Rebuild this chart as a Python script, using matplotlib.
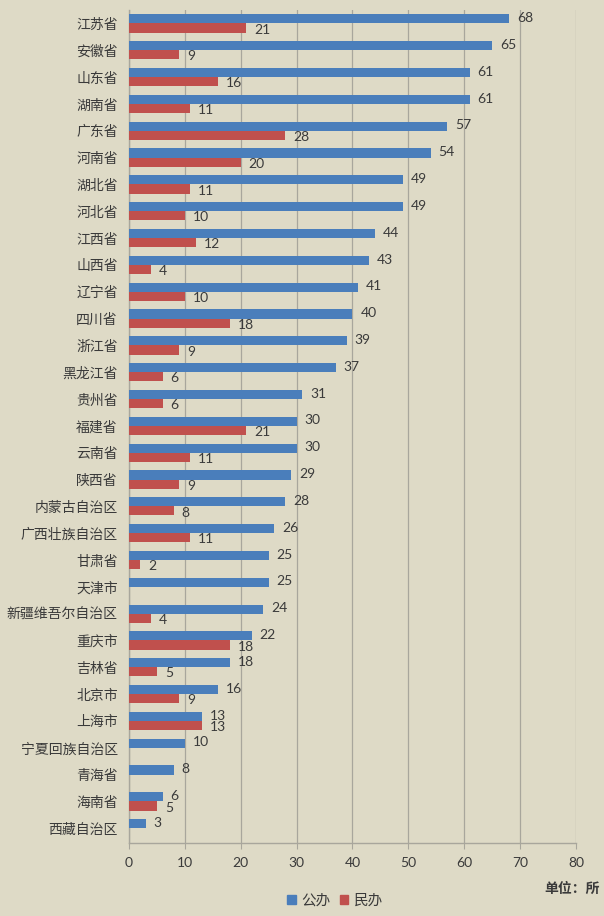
import matplotlib
matplotlib.use("Agg")
import matplotlib.pyplot as plt
import numpy as np
from matplotlib.patches import Patch

plt.rcParams["font.family"] = ["Noto Sans CJK SC", "DejaVu Sans"]

# data
provinces = [
    "江苏省", "安徽省", "山东省", "湖南省", "广东省", "河南省", "湖北省", "河北省",
    "江西省", "山西省", "辽宁省", "四川省", "浙江省", "黑龙江省", "贵州省", "福建省",
    "云南省", "陕西省", "内蒙古自治区", "广西壮族自治区", "甘肃省", "天津市",
    "新疆维吾尔自治区", "重庆市", "吉林省", "北京市", "上海市", "宁夏回族自治区",
    "青海省", "海南省", "西藏自治区",
]
public = [68, 65, 61, 61, 57, 54, 49, 49, 44, 43, 41, 40, 39, 37, 31, 30,
          30, 29, 28, 26, 25, 25, 24, 22, 18, 16, 13, 10, 8, 6, 3]
private = [21, 9, 16, 11, 28, 20, 11, 10, 12, 4, 10, 18, 9, 6, 6, 21,
           11, 9, 8, 11, 2, 0, 4, 18, 5, 9, 13, 0, 0, 5, 0]
xticks = [0, 10, 20, 30, 40, 50, 60, 70, 80]

blue = "#4A7EBB"
red = "#C0504D"
bg = "#DEDAC6"
text_c = "#3A3A3A"
grid_c = "#A8A69C"
num_font = ["Lato", "DejaVu Sans"]

fig = plt.figure(figsize=(6.04, 9.16), dpi=100, facecolor=bg)
ax = fig.add_axes([0.2136, 0.0797, 0.7400, 0.9093])
ax.set_facecolor(bg)

y = np.arange(len(provinces))
h = 0.34
ax.barh(y - h / 2, public, height=h, color=blue, zorder=3)
ax.barh(y + h / 2, private, height=h, color=red, zorder=3)

for i, (p, q) in enumerate(zip(public, private)):
    ax.text(p + 1.4, i - h / 2 - 0.03, str(p), va="center", ha="left",
            fontsize=10, color=text_c, family=num_font)
    if q > 0:
        ax.text(q + 1.4, i + h / 2 + 0.06, str(q), va="center", ha="left",
                fontsize=10, color=text_c, family=num_font)

ax.set_xlim(0, 80)
ax.set_ylim(len(provinces) - 0.45, -0.5)
ax.set_xticks(xticks)
ax.set_xticklabels([str(t) for t in xticks], fontsize=10, color=text_c,
                   family=num_font)
ax.set_yticks(y)
ax.set_yticklabels(provinces, fontsize=10, color=text_c)
ax.tick_params(axis="y", length=0, pad=8)
ax.tick_params(axis="x", length=4, color=grid_c, pad=6)

ax.grid(axis="x", color=grid_c, linewidth=0.9, zorder=0)
for s in ["top", "right"]:
    ax.spines[s].set_visible(False)
for s in ["left", "bottom"]:
    ax.spines[s].set_color(grid_c)
    ax.spines[s].set_linewidth(1.0)

handles = [Patch(color=blue, label="公办"), Patch(color=red, label="民办")]
fig.legend(handles=handles, loc="center", bbox_to_anchor=(0.555, 0.017), ncol=2,
           frameon=False, fontsize=10.5, handlelength=0.6, handleheight=0.6,
           handletextpad=0.4, columnspacing=0.6, labelcolor=text_c)

fig.text(0.993, 0.030, "单位：所", ha="right", va="center", fontsize=10,
         fontweight="bold", color=text_c)

fig.savefig("out.png", dpi=100, facecolor=bg)
